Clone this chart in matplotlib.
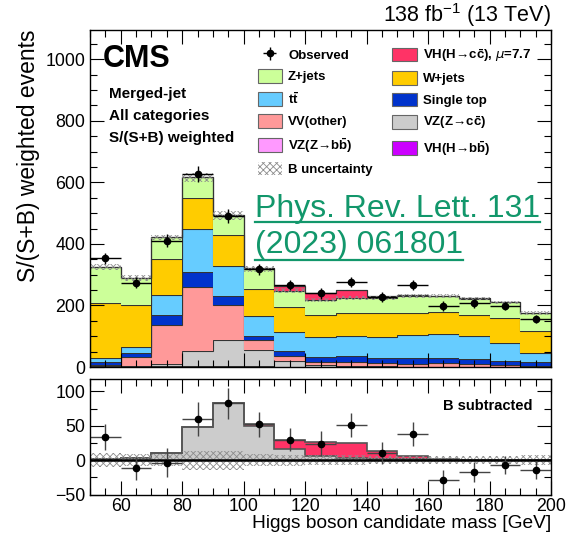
import numpy as np
import matplotlib.pyplot as plt
from matplotlib.patches import Patch
from matplotlib.lines import Line2D
from matplotlib.ticker import MultipleLocator

plt.rcParams['font.family'] = ['Liberation Sans', 'DejaVu Sans']
plt.rcParams['mathtext.fontset'] = 'custom'
plt.rcParams['mathtext.rm'] = 'Liberation Sans'
plt.rcParams['mathtext.bf'] = 'Liberation Sans:bold'
plt.rcParams['hatch.linewidth'] = 0.6

# 10 GeV bins of Higgs candidate mass
edges = np.arange(50, 201, 10)

# S/(S+B) weighted yields per process
vh_bb = [0.3, 0.4, 0.6, 1.5, 1.5, 0.8, 0.5, 0.3, 0.2, 0.2, 0.1, 0.1, 0.1, 0.1, 0.1]
vz_bb = [0.5, 1, 1.5, 2, 2, 1.5, 1, 0.5, 0.3, 0.3, 0.2, 0.2, 0.2, 0.2, 0.1]
vz_cc = [1, 3, 9, 50, 85, 54, 17, 6, 3, 2, 1, 1, 0.5, 0.3, 0.2]
vv_other = [5, 29, 126, 207, 113, 31, 16, 11, 14, 10, 9, 11, 9.5, 5, 4]
single_top = [8, 11, 32, 47, 29, 15, 18, 14, 17, 16, 20, 16, 15, 15, 11]
ttbar = [14, 20, 66, 140, 99, 63, 62, 65, 67, 70, 74, 78, 75, 59, 29]
w_jets = [178, 137, 117, 103, 100, 89, 79, 73, 75, 76, 72, 74, 70, 79, 74]
z_jets = [117, 87, 69, 66, 63, 65, 54, 48, 47, 49, 55, 51, 52, 51, 56]
vh_cc = [0.5, 0.5, 1, 1.5, 2, 2.5, 15, 22, 27, 7, 2, 0.5, 0.3, 0.2, 0.1]

observed = [353, 274, 410, 627, 491, 317, 266, 239, 277, 228, 266, 198, 207, 198, 155]
obs_err = [19, 17, 21, 25, 22, 18, 17, 18, 17, 16, 17, 15, 15, 13, 13]
b_unc = [10, 9, 9, 14, 14, 9, 8, 7, 7, 6, 6, 6, 6, 6, 7]

# background-subtracted panel
vz_cc_sub = [1, 2.5, 10.5, 47.5, 82.5, 49.5, 16, 6, 2.5, 1.5, 1, 0.5, 0.3, 0.2, 0.1]
vh_cc_sub = [0, 0, 0, 0, 0, 2.5, 13, 20.5, 23, 11.5, 5, 0.5, 0.3, 0.2, 0.1]
obs_sub = [34, -12, -4, 60, 82.5, 52, 30, 24, 51, 10, 38, -29, -17, -7, -14.5]

c_vhbb = '#cc00ff'
c_vzbb = '#ff99ff'
c_vzcc = '#cccccc'
c_vv = '#ff9999'
c_st = '#0033cc'
c_tt = '#66ccff'
c_w = '#ffcc00'
c_z = '#ccff99'
c_vhcc = '#ff3366'
c_line = '#333333'
c_hatch = '#8c8c8c'

fig = plt.figure(figsize=(5.66, 5.37), dpi=100)
ax = fig.add_axes([90/566, 1-367/537, 461/566, 337/537])
axr = fig.add_axes([90/566, 1-494.5/537, 461/566, 115.5/537], sharex=ax)

centers = 0.5*(edges[1:]+edges[:-1])

# stacked histogram
stack = [vh_bb, vz_bb, vz_cc, vv_other, single_top, ttbar, w_jets, z_jets, vh_cc]
colors = [c_vhbb, c_vzbb, c_vzcc, c_vv, c_st, c_tt, c_w, c_z, c_vhcc]
base = np.zeros(len(centers))
for vals, col in zip(stack, colors):
    top = base + np.array(vals)
    ax.stairs(top, edges, baseline=base, fill=True, color=col, lw=0)
    ax.stairs(top, edges, baseline=None, color=c_line, lw=0.8)
    base = top
ax.stairs(base, edges, baseline=0, color=c_line, lw=0.8)

bkg = base - np.array(vh_cc)
unc = np.array(b_unc)
ax.stairs(bkg+unc, edges, baseline=bkg-unc, fill=True, facecolor='none',
          edgecolor=c_hatch, hatch='xxxxx', lw=0)

obs = ax.errorbar(centers, observed, yerr=obs_err, xerr=5, fmt='o', color='black',
                  ms=4.5, elinewidth=1, capsize=0)

ax.set_xlim(50, 200)
ax.set_ylim(0, 1095)
ax.yaxis.set_major_locator(MultipleLocator(200))
ax.yaxis.set_minor_locator(MultipleLocator(50))
ax.xaxis.set_major_locator(MultipleLocator(20))
ax.xaxis.set_minor_locator(MultipleLocator(5))
ax.tick_params(labelbottom=False)
ax.set_ylabel('S/(S+B) weighted events', loc='top', fontsize=16.5)

# lower panel: background subtracted
zc = np.array(vz_cc_sub)
hc = zc + np.array(vh_cc_sub)
axr.stairs(zc, edges, baseline=0, fill=True, color=c_vzcc, lw=0)
axr.stairs(hc, edges, baseline=zc, fill=True, color=c_vhcc, lw=0)
axr.stairs(zc, edges, baseline=None, color='#555555', lw=1.2)
axr.stairs(hc, edges, baseline=None, color='#555555', lw=1.2)
axr.stairs(unc, edges, baseline=-unc, fill=True, facecolor='none',
           edgecolor=c_hatch, hatch='xxxxx', lw=0)
axr.axhline(0, color='black', lw=1.8)
axr.errorbar(centers, obs_sub, yerr=obs_err, xerr=5, fmt='o', color='black',
             ecolor='#444444', ms=4.5, elinewidth=1, capsize=0)
axr.set_ylim(-50, 118)
axr.yaxis.set_major_locator(MultipleLocator(50))
axr.yaxis.set_minor_locator(MultipleLocator(25))
axr.set_xlabel('Higgs boson candidate mass [GeV]', loc='right', fontsize=13.8)
axr.xaxis.set_label_coords(1.0, -0.176)
axr.text(0.96, 0.77, 'B subtracted', transform=axr.transAxes, ha='right',
         va='center', fontsize=10.5, fontweight='bold')

for a in (ax, axr):
    a.tick_params(which='both', direction='in', top=True, right=True, labelsize=12.8)
    a.tick_params(which='major', length=10, width=0.8)
    a.tick_params(which='minor', length=5, width=0.8)
    for s in a.spines.values():
        s.set_linewidth(1.0)
axr.tick_params(axis='x', pad=2.5)

# labels
ax.text(0.028, 0.958, 'CMS', transform=ax.transAxes, fontsize=22,
        fontweight='bold', va='top')
for i, t in enumerate(['Merged-jet', 'All categories', 'S/(S+B) weighted']):
    ax.text(0.042, 0.81 - i*0.065, t, transform=ax.transAxes, fontsize=11,
            fontweight='bold', va='center')
fig.text(551/566, 1-15/537, r'138 fb$^{-1}$ (13 TeV)', ha='right', va='center',
         fontsize=15.5)

# legend
h = lambda c: Patch(facecolor=c, edgecolor='#666666', lw=0.8)
handles = [obs, h(c_z), h(c_tt), h(c_vv), h(c_vzbb),
           Patch(facecolor='white', edgecolor=c_hatch, hatch='xxxxx', lw=0),
           h(c_vhcc), h(c_w), h(c_st), h(c_vzcc), h(c_vhbb)]
labels = ['Observed', 'Z+jets', r'$\mathbf{t\bar{t}}$', 'VV(other)',
          r'VZ(Z→b$\mathbf{\bar{b}}$)', 'B uncertainty',
          r'VH(H→c$\mathbf{\bar{c}}$), $\mu$=7.7', 'W+jets', 'Single top',
          r'VZ(Z→c$\mathbf{\bar{c}}$)', r'VH(H→b$\mathbf{\bar{b}}$)']
leg = ax.legend(handles, labels, ncol=2, loc='upper left',
                bbox_to_anchor=(0.338, 0.985), frameon=False,
                prop={'weight': 'bold', 'size': 9.5}, handlelength=1.85,
                handleheight=1.2, labelspacing=0.56, columnspacing=1.5,
                handletextpad=0.45)

# reference link
green = '#12976b'
lines = ['Phys. Rev. Lett. 131', '(2023) 061801']
ys = [216.7, 253.3]
uls = [222.0, 259.5]
fig.canvas.draw()
inv = fig.transFigure.inverted()
for t, yb, yu in zip(lines, ys, uls):
    txt = fig.text(255/566, 1-yb/537, t, color=green, fontsize=23,
                   va='baseline', ha='left')
    fig.canvas.draw()
    bb = txt.get_window_extent()
    x0, _ = inv.transform((bb.x0, 0))
    x1, _ = inv.transform((bb.x1, 0))
    fig.add_artist(Line2D([x0, x1], [1-yu/537]*2, color=green, lw=1.6,
                          transform=fig.transFigure))

fig.savefig('out.png', dpi=100)
